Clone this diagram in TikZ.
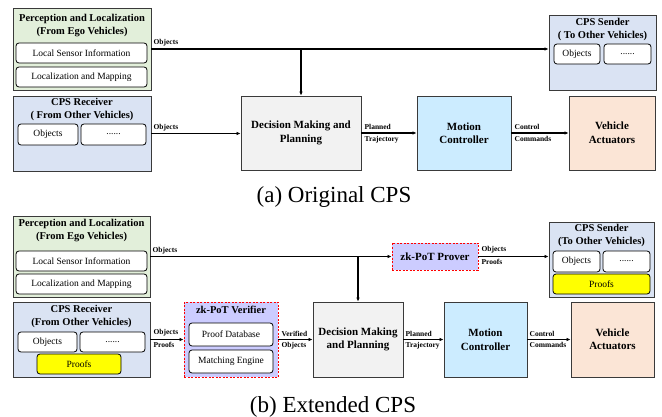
\documentclass[tikz,border=0pt]{standalone}
\usepackage{fontspec}
\setmainfont{Liberation Serif}
\usetikzlibrary{arrows.meta}
\definecolor{cgreen}{HTML}{E2EFDA}
\definecolor{cblue}{HTML}{DAE3F3}
\definecolor{cgray}{HTML}{F2F2F2}
\definecolor{csky}{HTML}{CCECFF}
\definecolor{cpeach}{HTML}{FBE5D6}
\definecolor{clav}{HTML}{CCCCFF}
\definecolor{cyell}{HTML}{FFFF00}
\definecolor{cborder}{HTML}{3A3A3A}
\tikzset{
  outer/.style={draw=cborder, line width=0.9pt, inner sep=0pt, rectangle},
  bigbox/.style={outer, align=center, font=\fontsize{11}{13.5}\selectfont\bfseries},
  zkbox/.style={draw=red, dash pattern=on 2pt off 1.5pt, fill=clav, line width=0.9pt, inner sep=0pt, align=center},
  inner/.style={draw=black, fill=white, line width=0.8pt, rounded corners=3pt, inner sep=0pt, font=\fontsize{9.5}{11}\selectfont},
  title/.style={align=center, inner sep=0pt, font=\fontsize{10.5}{13}\selectfont\bfseries},
  arr/.style={line width=1.2pt, -{Latex[length=4pt,width=3.6pt]}},
  elab/.style={inner sep=0pt, font=\fontsize{7.5}{8}\selectfont\bfseries},
  captxt/.style={inner sep=0pt, font=\fontsize{23}{25}\selectfont}
}
\begin{document}
\begin{tikzpicture}[x=1pt,y=-1pt]
\useasboundingbox (0,0) rectangle (662,417);
% ---------------- (a) ----------------
\node[outer, fill=cgreen, minimum width=138pt, minimum height=82pt] (perc) at (82,49) {};
\node[title] (perct) at (82,25.5) {Perception and Localization\\(From Ego Vehicles)};
\node[inner, minimum width=131pt, minimum height=20pt] (lsi) at (81.5,53) {Local Sensor Information};
\node[inner, minimum width=131pt, minimum height=20pt] (lam) at (81.5,77) {Localization and Mapping};

\node[outer, fill=cblue, minimum width=138pt, minimum height=75pt] (recv) at (82,133.5) {};
\node[title] (recvt) at (82,109) {CPS Receiver\\( From Other Vehicles)};
\node[inner, minimum width=60pt, minimum height=21pt] (robj) at (48,134.5) {Objects};
\node[inner, minimum width=65pt, minimum height=21pt] (rdots) at (113.5,134.5) {......};

\node[bigbox, fill=cgray, minimum width=120pt, minimum height=74pt] (dec) at (301,133) {Decision Making and\\Planning};
\node[bigbox, fill=csky, minimum width=94pt, minimum height=74pt] (mc) at (464,133) {Motion\\Controller};
\node[bigbox, fill=cpeach, minimum width=86pt, minimum height=74pt] (va) at (612,133) {Vehicle\\Actuators};

\node[outer, fill=cblue, minimum width=107pt, minimum height=75pt] (send) at (602.5,52.5) {};
\node[title] (sendt) at (602.5,29) {CPS Sender\\( To Other Vehicles)};
\node[inner, minimum width=46pt, minimum height=20pt] (sobj) at (577,54) {Objects};
\node[inner, minimum width=47pt, minimum height=20pt] (sdots) at (627.5,54) {......};

\coordinate (j1) at (301,49);
\draw[arr] (perc.east) -- (perc.east -| send.west);
\draw[arr] (j1) -- (dec.north);
\draw[arr] (recv.east) -- (recv.east -| dec.west);
\draw[arr] (dec.east) -- (mc.west);
\draw[arr] (mc.east) -- (va.west);

\node[elab, anchor=south west] at ([xshift=2pt,yshift=2.5pt]perc.east) {Objects};
\node[elab, anchor=south west] at ([xshift=2pt,yshift=2.5pt]recv.east) {Objects};
\node[elab, anchor=south west] at ([xshift=3pt,yshift=3pt]dec.east) {Planned};
\node[elab, anchor=north west] at ([xshift=3pt,yshift=-3pt]dec.east) {Trajectory};
\node[elab, anchor=south west] at ([xshift=3pt,yshift=3pt]mc.east) {Control};
\node[elab, anchor=north west] at ([xshift=3pt,yshift=-3pt]mc.east) {Commands};

\node[captxt] (capa) at (334,197) {(a) Original CPS};

% ---------------- (b) ----------------
\node[outer, fill=cgreen, minimum width=137pt, minimum height=81pt] (perc2) at (81.5,256.5) {};
\node[title] (perct2) at (81.5,231) {Perception and Localization\\(From Ego Vehicles)};
\node[inner, minimum width=131pt, minimum height=20pt] (lsi2) at (81.5,261) {Local Sensor Information};
\node[inner, minimum width=131pt, minimum height=20pt] (lam2) at (81.5,284) {Localization and Mapping};

\node[outer, fill=cblue, minimum width=137pt, minimum height=75pt] (recv2) at (81.5,339.5) {};
\node[title] (recvt2) at (81.5,316) {CPS Receiver\\(From Other Vehicles)};
\node[inner, minimum width=59pt, minimum height=20pt] (robj2) at (47.5,342) {Objects};
\node[inner, minimum width=65pt, minimum height=20pt] (rdots2) at (112.5,342) {......};
\node[inner, fill=cyell, minimum width=84pt, minimum height=20pt] (rproofs) at (79,364) {Proofs};

\node[zkbox, minimum width=94pt, minimum height=75pt] (ver) at (231,339.5) {};
\node[title] (vert) at (231,310) {zk-PoT Verifier};
\node[inner, minimum width=84pt, minimum height=23pt] (pdb) at (231,334.5) {Proof Database};
\node[inner, minimum width=84pt, minimum height=23pt] (me) at (231,361.5) {Matching Engine};

\node[bigbox, fill=cgray, minimum width=90pt, minimum height=75pt] (dec2) at (358,339.5) {Decision Making\\and Planning};
\node[zkbox, minimum width=86pt, minimum height=27pt, font=\fontsize{11}{13}\selectfont\bfseries] (prov) at (435,256.5) {zk-PoT Prover};
\node[bigbox, fill=csky, minimum width=83pt, minimum height=75pt] (mc2) at (485.5,339.5) {Motion\\Controller};
\node[bigbox, fill=cpeach, minimum width=83pt, minimum height=75pt] (va2) at (612.5,339.5) {Vehicle\\Actuators};

\node[outer, fill=cblue, minimum width=105pt, minimum height=75pt] (send2) at (601.5,259.5) {};
\node[title] (sendt2) at (601.5,235) {CPS Sender\\(To Other Vehicles)};
\node[inner, minimum width=47pt, minimum height=21pt] (sobj2) at (576.5,261.5) {Objects};
\node[inner, minimum width=47pt, minimum height=21pt] (sdots2) at (626.5,261.5) {......};
\node[inner, fill=cyell, minimum width=97pt, minimum height=20pt] (sproofs) at (601.5,284) {Proofs};

\coordinate (j2) at (dec2.north |- prov.west);
\draw[arr] (perc2.east) -- (perc2.east -| prov.west);
\draw[arr] (j2) -- (dec2.north);
\draw[arr] (prov.east) -- (prov.east -| send2.west);
\draw[arr] (recv2.east) -- (ver.west);
\draw[arr] (ver.east) -- (dec2.west);
\draw[arr] (dec2.east) -- (mc2.west);
\draw[arr] (mc2.east) -- (va2.west);

\node[elab, anchor=south west] at ([xshift=2pt,yshift=2.5pt]perc2.east) {Objects};
\node[elab, anchor=south west] at ([xshift=3pt,yshift=3pt]recv2.east) {Objects};
\node[elab, anchor=north west] at ([xshift=3pt,yshift=-3pt]recv2.east) {Proofs};
\node[elab, anchor=south west] at ([xshift=3pt,yshift=3pt]ver.east) {Verified};
\node[elab, anchor=north west] at ([xshift=3pt,yshift=-3pt]ver.east) {Objects};
\node[elab, anchor=south west] at ([xshift=3pt,yshift=3pt]prov.east) {Objects};
\node[elab, anchor=north west] at ([xshift=3pt,yshift=-3pt]prov.east) {Proofs};
\node[elab, anchor=south west] at ([xshift=2pt,yshift=3pt]dec2.east) {Planned};
\node[elab, anchor=north west] at ([xshift=2pt,yshift=-3pt]dec2.east) {Trajectory};
\node[elab, anchor=south west] at ([xshift=2pt,yshift=3pt]mc2.east) {Control};
\node[elab, anchor=north west] at ([xshift=2pt,yshift=-3pt]mc2.east) {Commands};

\node[captxt] (capb) at (333,407) {(b) Extended CPS};
\end{tikzpicture}
\end{document}
